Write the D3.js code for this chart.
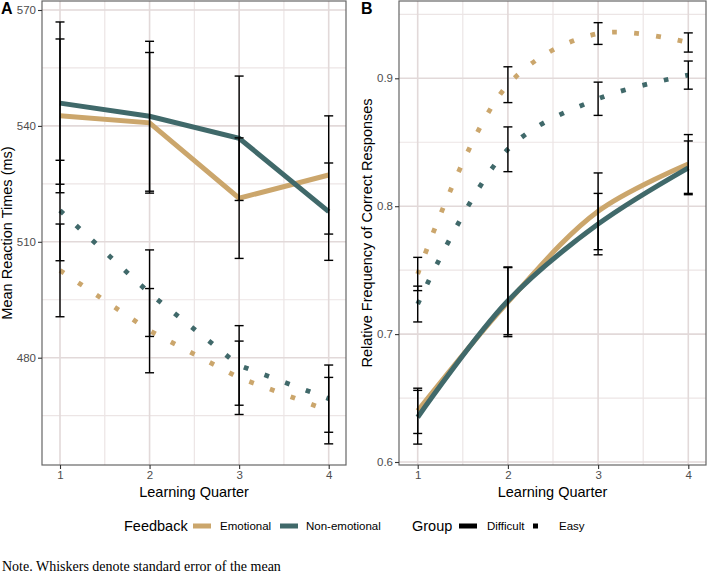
<!DOCTYPE html>
<html>
<head>
<meta charset="utf-8">
<script src="https://cdn.jsdelivr.net/npm/d3@7"></script>
<style>
  body { margin: 0; background: #fff; }
  svg { display: block; font-family: "Liberation Sans", Arial, sans-serif; }
</style>
</head>
<body>
<div id="chart"></div>
<script>
// data
var quarters = [1, 2, 3, 4];

// panel A: mean reaction times (ms)
var rtEmoDifficult = [542.6, 540.8, 521.3, 527.3];
var rtEmoDifficultSE = [19.9, 18.2, 15.6, 15.3];
var rtNonDifficult = [545.9, 542.5, 536.8, 517.8];
var rtNonDifficultSE = [21.0, 19.4, 16.1, 12.6];
var rtEmoEasy = [502.6, 487.0, 474.8, 466.3];
var rtEmoEasySE = [12.0, 10.9, 9.5, 8.6];
var rtNonEasy = [518.1, 496.7, 478.0, 469.4];
var rtNonEasySE = [13.0, 11.2, 10.3, 8.7];

// panel B: relative frequency of correct responses
var accEmoDifficult = [0.640, 0.725, 0.796, 0.833];
var accEmoDifficultSE = [0.0177, 0.027, 0.030, 0.023];
var accNonDifficult = [0.635, 0.726, 0.786, 0.830];
var accNonDifficultSE = [0.021, 0.0265, 0.024, 0.021];
var accEmoEasy = [0.747, 0.895, 0.935, 0.928];
var accEmoEasySE = [0.013, 0.014, 0.0085, 0.0075];
var accNonEasy = [0.7235, 0.8445, 0.884, 0.9025];
var accNonEasySE = [0.014, 0.0175, 0.013, 0.011];

var rtTicks = [480, 510, 540, 570];
var accTicks = [0.6, 0.7, 0.8, 0.9];

var colEmo = "#CBA66C", colNon = "#40696A";

var svg = d3.select("#chart").append("svg")
  .attr("width", 708)
  .attr("height", 575);

// draws one panel
function drawPanel(opt) {
  var x = d3.scaleLinear().domain([1, 4]).range(opt.xRange);
  var y = d3.scaleLinear().domain(opt.yDomain).range(opt.yRange);
  var left = opt.box[0], right = opt.box[1], top = opt.box[2], bottom = opt.box[3];

  var g = svg.append("g");

  // minor grid
  var xMinor = [1.5, 2.5, 3.5];
  var yStep = opt.ticks[1] - opt.ticks[0];
  var yMinor = opt.ticks.map(function(t) { return t + yStep / 2; })
    .concat([opt.ticks[0] - yStep / 2])
    .filter(function(v) { return y(v) > top && y(v) < bottom; });
  g.selectAll(".gx2").data(xMinor).enter().append("line")
    .attr("x1", function(d) { return x(d); }).attr("x2", function(d) { return x(d); })
    .attr("y1", top).attr("y2", bottom)
    .attr("stroke", "#ECE5E5").attr("stroke-width", 1.2);
  g.selectAll(".gy2").data(yMinor).enter().append("line")
    .attr("y1", function(d) { return y(d); }).attr("y2", function(d) { return y(d); })
    .attr("x1", left).attr("x2", right)
    .attr("stroke", "#ECE5E5").attr("stroke-width", 1.2);
  // major grid
  g.selectAll(".gx").data(quarters).enter().append("line")
    .attr("x1", function(d) { return x(d); }).attr("x2", function(d) { return x(d); })
    .attr("y1", top).attr("y2", bottom)
    .attr("stroke", "#E2D9D9").attr("stroke-width", 1.6);
  g.selectAll(".gy").data(opt.ticks).enter().append("line")
    .attr("y1", function(d) { return y(d); }).attr("y2", function(d) { return y(d); })
    .attr("x1", left).attr("x2", right)
    .attr("stroke", "#E2D9D9").attr("stroke-width", 1.6);

  // lines
  var line = d3.line()
    .x(function(d, i) { return x(quarters[i]); })
    .y(function(d) { return y(d); })
    .curve(opt.curve);

  opt.series.forEach(function(s) {
    g.append("path")
      .datum(s.values)
      .attr("d", line)
      .attr("fill", "none")
      .attr("stroke", s.color)
      .attr("stroke-width", s.dotted ? 4.8 : 5)
      .attr("stroke-dasharray", s.dotted ? "4.8,17.2" : null);
  });

  // error bars
  opt.series.forEach(function(s) {
    s.values.forEach(function(v, i) {
      var cx = x(quarters[i]);
      var lo = y(v - s.se[i]), hi = y(v + s.se[i]);
      g.append("line").attr("x1", cx).attr("x2", cx).attr("y1", lo).attr("y2", hi)
        .attr("stroke", "#000").attr("stroke-width", 1.4);
      [lo, hi].forEach(function(yy) {
        g.append("line").attr("x1", cx - 4.5).attr("x2", cx + 4.5).attr("y1", yy).attr("y2", yy)
          .attr("stroke", "#000").attr("stroke-width", 1.4);
      });
    });
  });

  // panel border
  g.append("rect")
    .attr("x", left).attr("y", top)
    .attr("width", right - left).attr("height", bottom - top)
    .attr("fill", "none").attr("stroke", "#666").attr("stroke-width", 1.2);

  // axes
  var yAxis = g.append("g")
    .attr("transform", "translate(" + left + ",0)")
    .call(d3.axisLeft(y).tickValues(opt.ticks).tickSize(4).tickPadding(2)
      .tickFormat(opt.fmt));
  var xAxis = g.append("g")
    .attr("transform", "translate(0," + bottom + ")")
    .call(d3.axisBottom(x).tickValues(quarters).tickSize(4).tickPadding(2)
      .tickFormat(d3.format("d")));
  [yAxis, xAxis].forEach(function(a) {
    a.select(".domain").remove();
    a.selectAll("line").attr("stroke", "#333").attr("stroke-width", 1.1);
    a.selectAll("text").attr("fill", "#4D4D4D")
      .style("font-size", "11.5px").style("font-family", "'Liberation Sans', Arial, sans-serif");
  });

  // axis titles
  g.append("text")
    .attr("x", (left + right) / 2).attr("y", 497)
    .attr("text-anchor", "middle")
    .style("font-size", "14.5px")
    .text("Learning Quarter");
  g.append("text")
    .attr("transform", "translate(" + opt.yTitleX + "," + ((top + bottom) / 2) + ") rotate(-90)")
    .attr("text-anchor", "middle")
    .style("font-size", "14.5px")
    .text(opt.yTitle);

  // panel tag
  g.append("text")
    .attr("x", opt.tagX).attr("y", 14)
    .style("font-size", "16px").style("font-weight", "bold")
    .text(opt.tag);
}

drawPanel({
  tag: "A", tagX: 1,
  box: [42, 346, 1, 465],
  xRange: [60, 328.7],
  yDomain: [480, 570], yRange: [357.7, 10],
  ticks: rtTicks, fmt: d3.format("d"),
  curve: d3.curveLinear,
  yTitle: "Mean Reaction Times (ms)", yTitleX: 12,
  series: [
    { values: rtEmoEasy, se: rtEmoEasySE, color: colEmo, dotted: true },
    { values: rtNonEasy, se: rtNonEasySE, color: colNon, dotted: true },
    { values: rtEmoDifficult, se: rtEmoDifficultSE, color: colEmo, dotted: false },
    { values: rtNonDifficult, se: rtNonDifficultSE, color: colNon, dotted: false }
  ]
});

drawPanel({
  tag: "B", tagX: 361,
  box: [399, 706, 1, 465],
  xRange: [417.7, 688.3],
  yDomain: [0.6, 0.9], yRange: [462, 78.3],
  ticks: accTicks, fmt: d3.format(".1f"),
  curve: d3.curveCatmullRom,
  yTitle: "Relative Frequency of Correct Responses", yTitleX: 372,
  series: [
    { values: accEmoEasy, se: accEmoEasySE, color: colEmo, dotted: true },
    { values: accNonEasy, se: accNonEasySE, color: colNon, dotted: true },
    { values: accEmoDifficult, se: accEmoDifficultSE, color: colEmo, dotted: false },
    { values: accNonDifficult, se: accNonDifficultSE, color: colNon, dotted: false }
  ]
});

// legend
var legend = svg.append("g");
legend.append("text").attr("x", 124).attr("y", 531).style("font-size", "14.5px").text("Feedback");
legend.append("rect").attr("x", 193).attr("y", 523.5).attr("width", 18).attr("height", 5).attr("fill", colEmo);
legend.append("text").attr("x", 220).attr("y", 530).style("font-size", "11.5px").text("Emotional");
legend.append("rect").attr("x", 280).attr("y", 523.5).attr("width", 18).attr("height", 5).attr("fill", colNon);
legend.append("text").attr("x", 306).attr("y", 530).style("font-size", "11.5px").text("Non-emotional");

legend.append("text").attr("x", 412).attr("y", 531).style("font-size", "14.5px").text("Group");
legend.append("rect").attr("x", 459).attr("y", 523.5).attr("width", 18).attr("height", 5).attr("fill", "#000");
legend.append("text").attr("x", 487).attr("y", 530).style("font-size", "11.5px").text("Difficult");
legend.append("rect").attr("x", 533).attr("y", 523.5).attr("width", 5).attr("height", 5).attr("fill", "#000");
legend.append("text").attr("x", 559).attr("y", 530).style("font-size", "11.5px").text("Easy");

// note
svg.append("text")
  .attr("x", 2).attr("y", 571)
  .style("font-family", "'Liberation Serif', 'Times New Roman', serif")
  .style("font-size", "14px")
  .text("Note. Whiskers denote standard error of the mean");
</script>
</body>
</html>
